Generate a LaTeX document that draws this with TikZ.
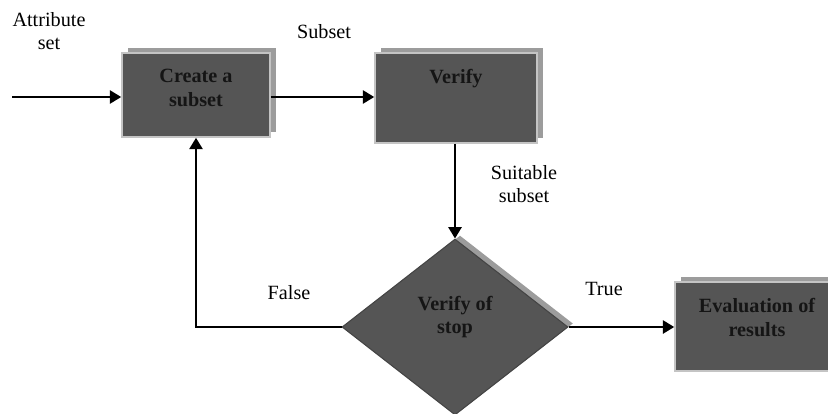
\documentclass[tikz,border=0pt]{standalone}
\usepackage{fontspec}
\setmainfont{Liberation Serif}
\usetikzlibrary{shapes.geometric,arrows.meta,shadows}
\usepackage{xcolor}
\definecolor{boxfill}{HTML}{555555}
\definecolor{boxedge}{HTML}{C4C4C4}
\definecolor{shadowgray}{HTML}{9C9C9C}
\definecolor{boxtext}{HTML}{151515}

\begin{document}
\begin{tikzpicture}[x=0.02cm, y=-0.02cm,
  every node/.style={font=\fontsize{11.5}{13.5}\selectfont},
  stepbox/.style={draw=boxedge, line width=0.9pt, fill=boxfill, inner sep=0pt,
    copy shadow={fill=shadowgray, draw=none, opacity=1, shadow xshift=0.12cm, shadow yshift=0.1cm}},
  decision/.style={diamond, draw=boxfill!80!black, line width=0.6pt, fill=boxfill, inner sep=0pt,
    minimum width=4.52cm, minimum height=3.52cm,
    copy shadow={fill=shadowgray, draw=none, opacity=1, shadow xshift=0.1cm, shadow yshift=0.07cm}},
  boxlabel/.style={anchor=north, yshift=-0.22cm, align=center, text=boxtext, font=\fontsize{11.5}{13.5}\selectfont\bfseries},
  tag/.style={align=center, inner sep=1pt},
  arr/.style={line width=1.3pt, -{Triangle[length=6.5pt,width=7.5pt]}}
]
  \useasboundingbox (0,0) rectangle (828,413);
  \clip (0,0) rectangle (828,413);

  % process boxes
  \node[stepbox, minimum width=2.96cm, minimum height=1.68cm,
    label={[boxlabel]north:Create a\\subset}] (create) at (196,95) {};
  \node[stepbox, minimum width=3.24cm, minimum height=1.8cm,
    label={[boxlabel]north:Verify}] (verify) at (456,98) {};
  \node[stepbox, minimum width=3.28cm, minimum height=1.78cm,
    label={[boxlabel]north:Evaluation of\\results}] (eval) at (757,326.5) {};

  % stop test
  \node[decision, label={[boxlabel, anchor=center, yshift=0.42cm]center:Verify of\\stop}] (stop) at (455,327) {};

  % edge texts
  \node[tag] (attr) at (49,31) {Attribute\\set};
  \node[tag] (subset) at (324,32) {Subset};
  \node[tag] (suitable) at (524,184) {Suitable\\subset};
  \node[tag] (false) at (289,293) {False};
  \node[tag] (true) at (604,289) {True};

  \coordinate (in) at (12,97);

  \draw[arr] (in) -- (in -| create.west);
  \draw[arr] (create.east |- in) -- (verify.west |- in);
  \draw[arr] (verify.south -| stop.north) -- (stop.north);
  \draw[arr] (stop.west) -| (create.south);
  \draw[arr] (stop.east) -- (eval.west |- stop.east);
\end{tikzpicture}
\end{document}
